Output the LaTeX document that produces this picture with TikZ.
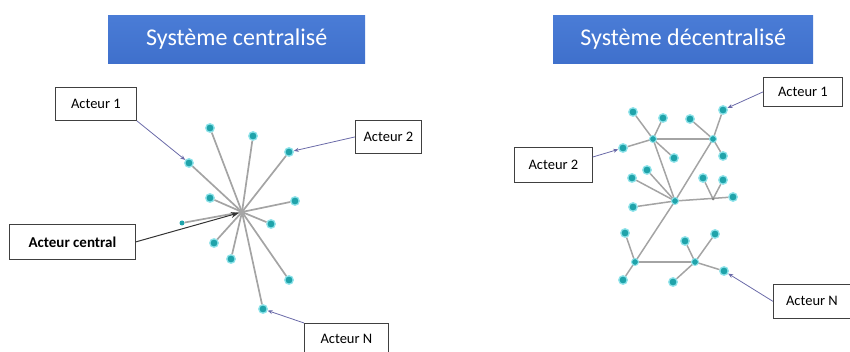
\documentclass[tikz,border=0pt]{standalone}
\usepackage{fontspec}
\setmainfont{Carlito}
\usetikzlibrary{arrows.meta}
\definecolor{titleblue}{HTML}{3F70CC}
\definecolor{titletop}{HTML}{4A7CD6}
\definecolor{dotc}{HTML}{1FA3AA}
\definecolor{glowc}{HTML}{8FE3EA}
\definecolor{edgec}{HTML}{A4A4A4}
\definecolor{pointc}{HTML}{6A6AA8}
\tikzset{
  titlebox/.style={draw=none, top color=titletop, bottom color=titleblue, text=white, font=\fontsize{24}{28}\selectfont, inner sep=0pt, anchor=north west},
  lbl/.style={draw=black!75, line width=0.8pt, fill=white, font=\fontsize{14.5}{16}\selectfont, inner sep=0pt, anchor=north west},
  dot/.style={circle, fill=dotc, draw=glowc, line width=1.3pt, inner sep=0pt, minimum size=8.5pt},
  hub/.style={circle, fill=dotc, draw=glowc, line width=1pt, inner sep=0pt, minimum size=7pt},
  tiny/.style={circle, fill=edgec!80!black, inner sep=0pt, minimum size=3pt},
  edge/.style={draw=edgec, line width=1.7pt},
  pointer/.style={draw=pointc, line width=0.8pt, -{Stealth[length=5pt,width=4pt]}},
  darkpointer/.style={draw=black!80, line width=1pt, -{Stealth[length=8pt,width=6pt]}}
}
\begin{document}
\begin{tikzpicture}[x=1pt,y=-1pt]
\useasboundingbox (0,0) rectangle (850,352);
% titles
\node[titlebox, minimum width=257pt, minimum height=48pt] (t1) at (108,15) {Système centralisé};
\node[titlebox, minimum width=260pt, minimum height=48pt] (t2) at (553,15) {Système décentralisé};

% ---------- centralised ----------
\coordinate (c) at (242,212);
\foreach \n/\x/\y in {a/210/128, b/253/136, c2/289/152, d/189/163, e/210/198, f/295/201, h/271/224, i/214/243, j/231/259, k/289/280, l/263/309}
  {\node[dot] (n\n) at (\x,\y) {};}
\node[circle, fill=dotc, inner sep=0pt, minimum size=5pt] (ng) at (182,223) {};
\foreach \n in {a,b,c2,d,e,f,h,i,j,k,l}
  {\draw[edge] (c) -- (n\n);}
\draw[edge] (c) -- (ng);
\node[circle, fill=gray!70, inner sep=0pt, minimum size=6pt] (cc) at (c) {};

\node[lbl, minimum width=81pt, minimum height=33pt] (l1) at (55,87) {Acteur 1};
\node[lbl, minimum width=66pt, minimum height=33pt] (l2) at (355,120) {Acteur 2};
\node[lbl, minimum width=126pt, minimum height=35pt, font=\fontsize{15}{17}\selectfont\bfseries] (lc) at (9,224) {Acteur central};
\node[lbl, minimum width=84pt, minimum height=32pt] (ln) at (304,323) {Acteur N};

\draw[pointer] (l1.south east) -- (nd);
\draw[pointer] (l2.west) -- (nc2);
\draw[darkpointer] (lc.east) -- (cc);
\draw[pointer] (ln.north west) -- (nl);

% ---------- decentralised ----------
\foreach \n/\x/\y in {A/633/112, B/663/118, C/690/119, D/723/110, E/623/148, F/674/158, G/723/156, H/632/178, I/647/170, J/703/178, K/723/180, L/733/197, M/633/207, N/625/233, O/685/241, P/715/234, Q/623/280, R/673/282, S/724/271}
  {\node[dot] (m\n) at (\x,\y) {};}
\foreach \n/\x/\y in {h1/653/139, h2/713/139, h3/675/201, h4/635/262, h5/695/262}
  {\coordinate (\n) at (\x,\y);}
\coordinate (jn) at (713,199);
\foreach \a/\b in {h1/mA, h1/mB, h1/mE, h1/mF, h1/h2, h1/h3, h2/mC, h2/mD, h2/mG, h2/h3, h3/mH, h3/mI, h3/mM, h3/mL, jn/mJ, jn/mK, h3/h4, h4/mN, h4/mQ, h4/h5, h5/mO, h5/mP, h5/mR, h5/mS}
  {\draw[edge, line width=1.5pt] (\a) -- (\b);}
\foreach \n in {h1,h2,h3,h4,h5}
  {\node[hub] (H\n) at (\n) {};}
\node[tiny] (jt) at (jn) {};

\node[lbl, minimum width=79pt, minimum height=29pt] (r1) at (763,77) {Acteur 1};
\node[lbl, minimum width=78pt, minimum height=35pt] (r2) at (514,147) {Acteur 2};
\node[lbl, minimum width=77pt, minimum height=34pt] (rn) at (773,284) {Acteur N};

\draw[pointer] (r1.west) -- (mD);
\draw[pointer] ([yshift=-10pt]r2.north east) -- (mE);
\draw[pointer] (rn.west) -- (mS);
\end{tikzpicture}
\end{document}
